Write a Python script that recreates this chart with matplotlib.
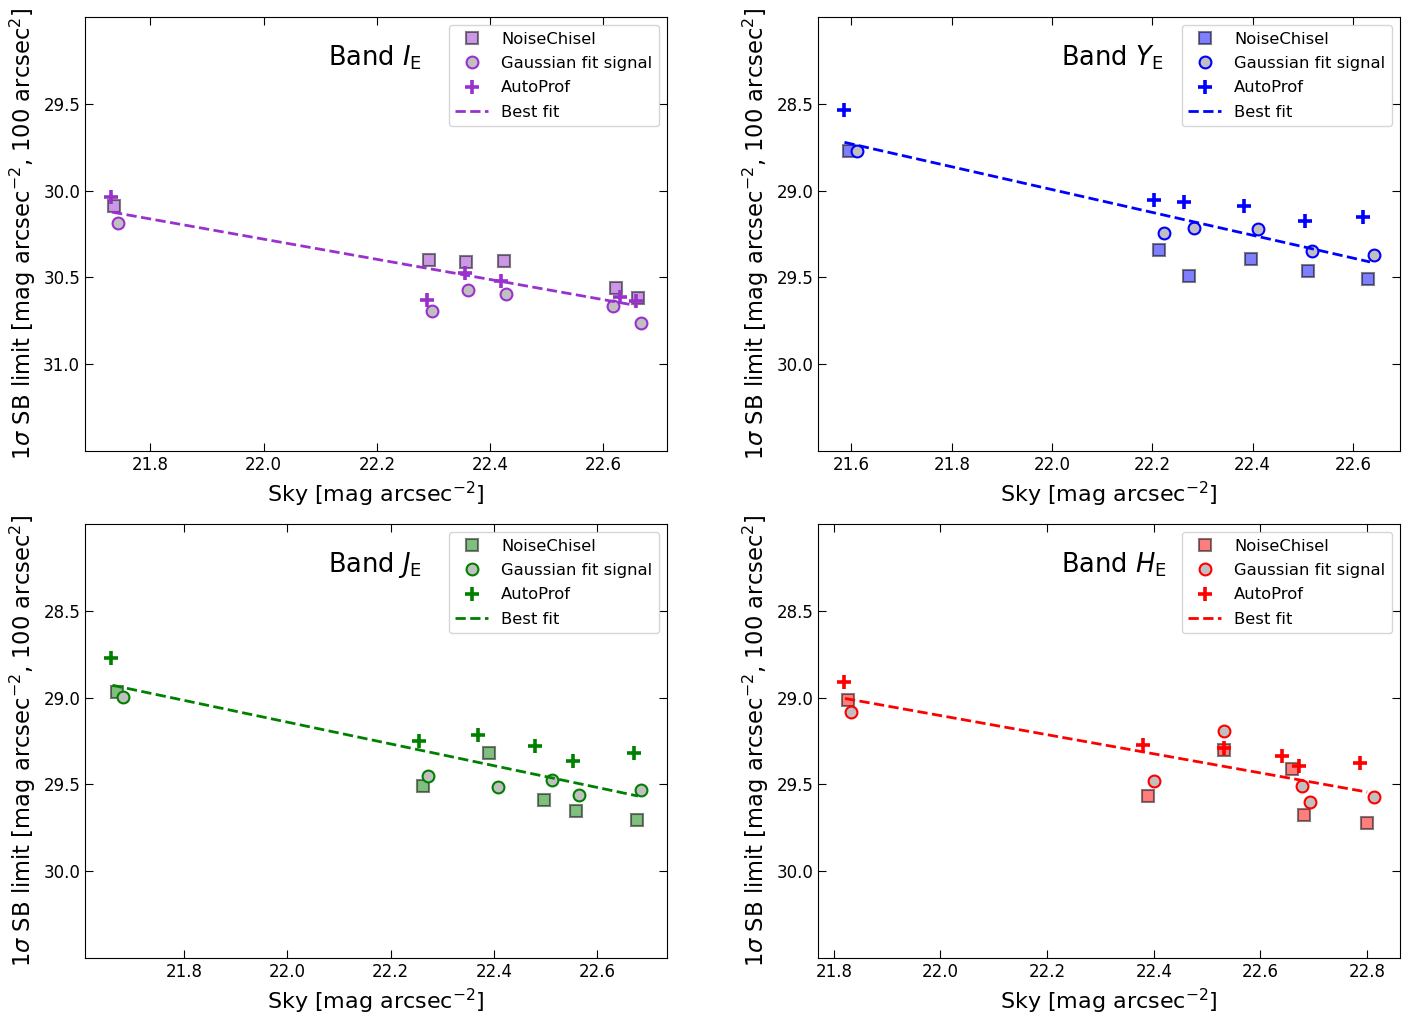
import matplotlib
matplotlib.use('Agg')
import matplotlib.pyplot as plt

# Band I_E
nc_sky_I = [21.736, 22.293, 22.358, 22.424, 22.623, 22.662]
nc_sb_I = [30.086, 30.400, 30.413, 30.406, 30.562, 30.619]
gs_sky_I = [21.743, 22.297, 22.361, 22.428, 22.618, 22.666]
gs_sb_I = [30.189, 30.693, 30.570, 30.593, 30.667, 30.760]
ap_sky_I = [21.731, 22.289, 22.356, 22.420, 22.629, 22.658]
ap_sb_I = [30.034, 30.629, 30.473, 30.522, 30.615, 30.634]
fit_sky_I = [21.732, 22.655]
fit_sb_I = [30.124, 30.660]

# Band Y_E
nc_sky_Y = [21.596, 22.213, 22.273, 22.397, 22.511, 22.629]
nc_sb_Y = [28.773, 29.343, 29.494, 29.392, 29.466, 29.507]
gs_sky_Y = [21.611, 22.223, 22.283, 22.410, 22.519, 22.641]
gs_sb_Y = [28.773, 29.246, 29.214, 29.223, 29.347, 29.373]
ap_sky_Y = [21.586, 22.203, 22.263, 22.383, 22.505, 22.620]
ap_sb_Y = [28.536, 29.053, 29.066, 29.089, 29.174, 29.152]
fit_sky_Y = [21.586, 22.634]
fit_sb_Y = [28.722, 29.411]

# Band J_E
nc_sky_J = [21.670, 22.263, 22.390, 22.496, 22.559, 22.677]
nc_sb_J = [28.967, 29.511, 29.317, 29.591, 29.656, 29.706]
gs_sky_J = [21.681, 22.272, 22.408, 22.513, 22.565, 22.684]
gs_sb_J = [28.995, 29.449, 29.513, 29.477, 29.559, 29.534]
ap_sky_J = [21.659, 22.255, 22.370, 22.479, 22.553, 22.671]
ap_sb_J = [28.773, 29.249, 29.214, 29.281, 29.363, 29.319]
fit_sky_J = [21.661, 22.679]
fit_sb_J = [28.929, 29.567]

# Band H_E
nc_sky_H = [21.826, 22.390, 22.531, 22.659, 22.682, 22.799]
nc_sb_H = [29.014, 29.565, 29.300, 29.414, 29.679, 29.723]
gs_sky_H = [21.832, 22.401, 22.532, 22.678, 22.693, 22.812]
gs_sb_H = [29.081, 29.483, 29.190, 29.507, 29.603, 29.573]
ap_sky_H = [21.820, 22.379, 22.531, 22.641, 22.673, 22.786]
ap_sb_H = [28.913, 29.271, 29.290, 29.336, 29.395, 29.378]
fit_sky_H = [21.821, 22.800]
fit_sb_H = [29.005, 29.544]

band_names = ['I', 'Y', 'J', 'H']
band_colors = ['darkorchid', 'blue', 'green', 'red']
ylims = [(31.5, 29.0), (30.5, 28.0), (30.5, 28.0), (30.5, 28.0)]
yticks = [[29.5, 30.0, 30.5, 31.0], [28.5, 29.0, 29.5, 30.0],
          [28.5, 29.0, 29.5, 30.0], [28.5, 29.0, 29.5, 30.0]]

data = {
    'I': (nc_sky_I, nc_sb_I, gs_sky_I, gs_sb_I, ap_sky_I, ap_sb_I, fit_sky_I, fit_sb_I),
    'Y': (nc_sky_Y, nc_sb_Y, gs_sky_Y, gs_sb_Y, ap_sky_Y, ap_sb_Y, fit_sky_Y, fit_sb_Y),
    'J': (nc_sky_J, nc_sb_J, gs_sky_J, gs_sb_J, ap_sky_J, ap_sb_J, fit_sky_J, fit_sb_J),
    'H': (nc_sky_H, nc_sb_H, gs_sky_H, gs_sb_H, ap_sky_H, ap_sb_H, fit_sky_H, fit_sb_H),
}

W, H = 1419, 1021
fig = plt.figure(figsize=(W / 100, H / 100), dpi=100)
positions = [(85, 17), (818, 17), (85, 524), (818, 524)]
ax_w, ax_h = 582, 434

for i, band in enumerate(band_names):
    x0, y0 = positions[i]
    ax = fig.add_axes([x0 / W, 1 - (y0 + ax_h) / H, ax_w / W, ax_h / H])
    c = band_colors[i]
    nc_x, nc_y, gs_x, gs_y, ap_x, ap_y, fx, fy = data[band]

    ax.plot(nc_x, nc_y, 's', ms=8.5, mfc=c, mec='k', mew=1.5, alpha=0.5, label='NoiseChisel')
    ax.plot(gs_x, gs_y, 'o', ms=8.5, mfc='silver', mec=c, mew=1.5, label='Gaussian fit signal')
    ax.plot(ap_x, ap_y, '+', ms=10.5, mew=2.6, color=c, label='AutoProf')
    ax.plot(fx, fy, '--', lw=2, color=c, label='Best fit')

    ax.set_ylim(*ylims[i])
    ax.set_yticks(yticks[i])
    ax.tick_params(direction='in', top=True, right=True, labelsize=12, length=6)
    ax.set_xlabel(r'Sky [mag arcsec$^{-2}$]', fontsize=16)
    ax.set_ylabel(r'1$\sigma$ SB limit [mag arcsec$^{-2}$, 100 arcsec$^2$]', fontsize=16.3)
    ax.text(0.418, 0.905, r'Band $%s_\mathrm{E}$' % band, transform=ax.transAxes,
            fontsize=18.5, va='center')
    ax.legend(loc='upper right', fontsize=11.8, labelspacing=0.57)

plt.savefig('out.png', dpi=100)
